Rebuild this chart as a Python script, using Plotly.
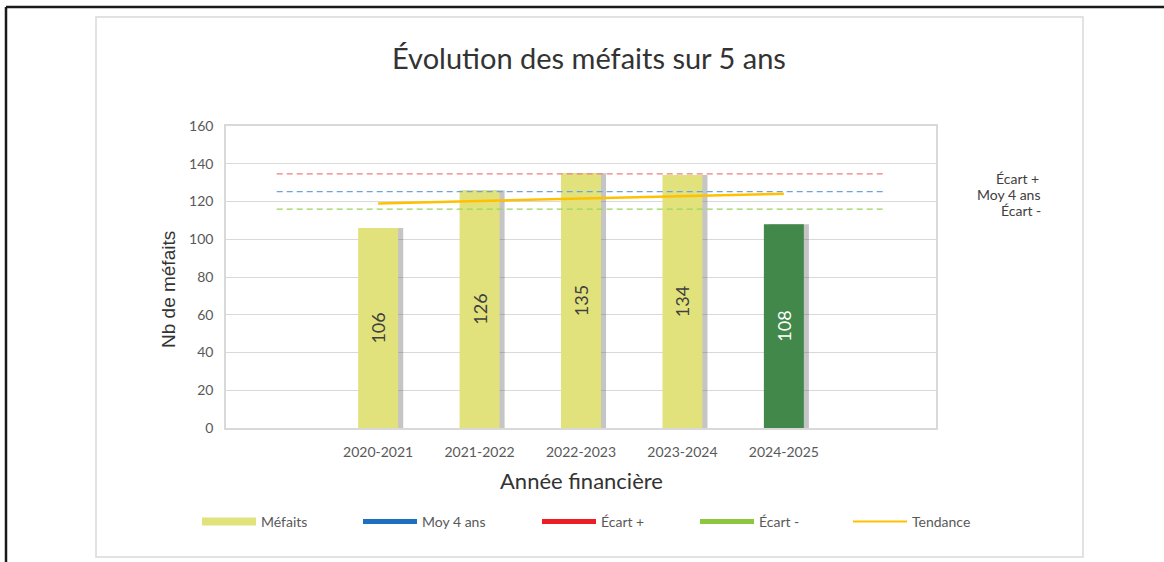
import plotly.graph_objects as go

# ---------------- data ----------------
categories = ["2020-2021", "2021-2022", "2022-2023", "2023-2024", "2024-2025"]
mefaits = [106, 126, 135, 134, 108]
moy_4_ans = 125.25
ecart_plus = 134.6
ecart_moins = 116.0
tendance = [119.0, 120.3, 121.6, 122.8, 124.1]
y_ticks = [0, 20, 40, 60, 80, 100, 120, 140, 160]

bar_colors = ["#e2e27c", "#e2e27c", "#e2e27c", "#e2e27c", "#42884a"]
label_colors = ["#404040", "#404040", "#404040", "#404040", "#ffffff"]

# category slots: one empty slot before and after the years
xpos = list(range(1, len(categories) + 1))
span = [0, len(categories) + 1]

FONT = "Lato"
TXT = "#595959"

BW = 0.394
fig = go.Figure()

# shadow of the bars
fig.add_trace(go.Bar(
    x=xpos, y=mefaits, width=BW, offset=-BW / 2 + 0.05,
    marker=dict(color="rgba(90,90,90,0.35)", line=dict(width=0)),
    showlegend=False, hoverinfo="skip"))

# bars
fig.add_trace(go.Bar(
    x=xpos, y=mefaits, width=BW, offset=-BW / 2,
    marker=dict(color=bar_colors, line=dict(width=0)),
    text=[str(v) for v in mefaits], textposition="inside",
    insidetextanchor="middle", textangle=-90,
    textfont=dict(family=FONT, size=18, color=label_colors),
    showlegend=False, name="Méfaits"))

# reference lines
fig.add_trace(go.Scatter(x=span, y=[ecart_plus] * 2, mode="lines",
                         line=dict(color="#ec7f7f", width=1.2, dash="6px,4px"),
                         showlegend=False, hoverinfo="skip"))
fig.add_trace(go.Scatter(x=span, y=[moy_4_ans] * 2, mode="lines",
                         line=dict(color="#6fa3e0", width=1.2, dash="6px,4px"),
                         showlegend=False, hoverinfo="skip"))
fig.add_trace(go.Scatter(x=span, y=[ecart_moins] * 2, mode="lines",
                         line=dict(color="#9cd35f", width=1.2, dash="6px,4px"),
                         showlegend=False, hoverinfo="skip"))
# trend
fig.add_trace(go.Scatter(x=xpos, y=tendance, mode="lines",
                         line=dict(color="#ffc000", width=2.5),
                         showlegend=False, hoverinfo="skip"))

# legend entries
leg_items = [
    ("Méfaits", "#e2e27c", 8, "legend", 202),
    ("Moy 4 ans", "#1f6fbf", 5, "legend2", 363),
    ("Écart +", "#ee1c25", 5, "legend3", 542),
    ("Écart -", "#8dc63f", 5, "legend4", 700),
    ("Tendance", "#ffc000", 2, "legend5", 853),
]
legend_layout = {}
for name, col, w, lg, px in leg_items:
    fig.add_trace(go.Scatter(x=[None], y=[None], mode="lines", name=name,
                             line=dict(color=col, width=w), legend=lg))
    legend_layout[lg] = dict(
        x=(px - 5 - 226) / 710, xanchor="left", y=(428 - 522) / 302, yanchor="middle",
        orientation="h", itemwidth=54, bgcolor="rgba(0,0,0,0)",
        font=dict(family=FONT, size=14, color=TXT), tracegroupgap=0)

fig.update_layout(
    width=1164, height=562,
    margin=dict(l=226, r=228, t=126, b=134),
    paper_bgcolor="white", plot_bgcolor="white",
    barmode="overlay",
    font=dict(family=FONT, color=TXT),
    **legend_layout,
)

fig.update_xaxes(
    range=[-0.5, len(categories) + 1.5],
    tickvals=xpos, ticktext=categories,
    tickfont=dict(family=FONT, size=14, color=TXT),
    showgrid=False, zeroline=False,
    showline=True, linecolor="#d9d9d9", linewidth=1.5, mirror=True,
    ticks="", ticklabelstandoff=10, fixedrange=True)
fig.update_yaxes(
    range=[0, 160], tickvals=y_ticks,
    tickfont=dict(family=FONT, size=14, color=TXT),
    showgrid=True, gridcolor="#d9d9d9", gridwidth=1.2, zeroline=False,
    showline=True, linecolor="#d9d9d9", linewidth=1.5, mirror=True,
    ticks="", ticklabelstandoff=8, fixedrange=True)

def px_x(px):
    return (px - 226) / 710

def px_y(py):
    return (428 - py) / 302

annotations = [
    dict(text="Évolution des méfaits sur 5 ans", x=px_x(589), y=px_y(58),
         font=dict(family=FONT, size=29, color="#333333")),
    dict(text="Nb de méfaits", x=px_x(168), y=px_y(290), textangle=-90,
         font=dict(family="Liberation Sans", size=19, color="#333333")),
    dict(text="Année financière", x=px_x(581), y=px_y(481),
         font=dict(family=FONT, size=22, color="#333333")),
    dict(text="Écart +", x=px_x(1041), y=px_y(178), xanchor="right",
         font=dict(family=FONT, size=14, color="#404040")),
    dict(text="Moy 4 ans", x=px_x(1043), y=px_y(194), xanchor="right",
         font=dict(family=FONT, size=14, color="#404040")),
    dict(text="Écart -", x=px_x(1043), y=px_y(210), xanchor="right",
         font=dict(family=FONT, size=14, color="#404040")),
]
for a in annotations:
    a.setdefault("xanchor", "center")
    fig.add_annotation(xref="paper", yref="paper", yanchor="middle",
                       showarrow=False, **a)

# outer chart frame and page border
fig.add_shape(type="rect", xref="paper", yref="paper",
              x0=px_x(96), x1=px_x(1083), y0=px_y(557), y1=px_y(17),
              line=dict(color="#d9d9d9", width=1.5), layer="below")
fig.add_shape(type="line", xref="paper", yref="paper",
              x0=px_x(6), x1=px_x(6), y0=px_y(7), y1=px_y(575),
              line=dict(color="#1a1a1a", width=2.5))
fig.add_shape(type="line", xref="paper", yref="paper",
              x0=px_x(6), x1=px_x(1180), y0=px_y(7), y1=px_y(7),
              line=dict(color="#1a1a1a", width=2.5))

fig.write_html("out.html", config={"displayModeBar": False},
               post_script="document.body.style.margin='0';")
